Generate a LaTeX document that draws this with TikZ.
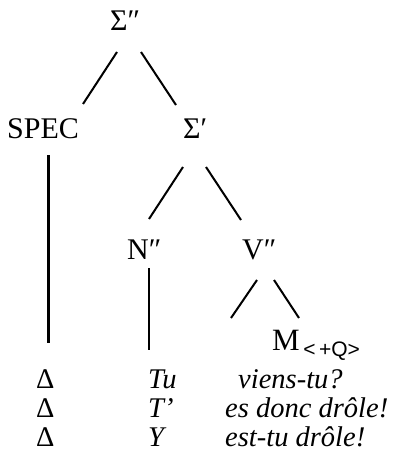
\documentclass[tikz,border=0pt]{standalone}
\usepackage{fontspec}
\setmainfont{Liberation Serif}
\newfontfamily\subfont{Liberation Sans}
\begin{document}
\begin{tikzpicture}[x=1pt,y=-1pt,
  lbl/.style={inner sep=0pt,anchor=base west,font=\fontsize{30}{36}\selectfont},
  row/.style={inner sep=0pt,anchor=base west,font=\fontsize{28.5}{34}\selectfont},
  ital/.style={row,font=\fontsize{28.5}{34}\selectfont\itshape},
  branch/.style={line width=2pt},
  trunk/.style={line width=3pt}]
\useasboundingbox (0,0) rectangle (396,468);
% tree labels
\node[lbl] (s2) at (110,31) {Σ″};
\node[lbl] (spec) at (7,139) {SPEC};
\node[lbl] (s1) at (183,139) {Σ′};
\node[lbl] (n2) at (127,259) {N″};
\node[lbl] (v2) at (242,259) {V″};
\node[lbl] (m) at (272,350) {\fontsize{31}{36}\selectfont M\raisebox{-6pt}{\subfont\fontsize{21}{24}\selectfont\,<\,+Q>}};
% rows
\node[row] (d1) at (36,388) {Δ};
\node[row] (d2) at (36,417) {Δ};
\node[row] (d3) at (36,446) {Δ};
\node[ital] (w1) at (148,388) {Tu};
\node[ital] (w2) at (148,417) {T’};
\node[ital] (w3) at (148,446) {Y};
\node[ital] (r1) at (238,388) {viens-tu?};
\node[ital] (r2) at (225,417) {es donc drôle!};
\node[ital] (r3) at (225,446) {est-tu drôle!};
% connector ends
\coordinate (a1) at (117,52); \coordinate (b1) at (83,104);
\coordinate (a2) at (141,52); \coordinate (b2) at (176,105);
\coordinate (a3) at (183,167); \coordinate (b3) at (149,219);
\coordinate (a4) at (206,167); \coordinate (b4) at (241,220);
\coordinate (a5) at (257,280); \coordinate (b5) at (231,318);
\coordinate (a6) at (274,280); \coordinate (b6) at (299,318);
\coordinate (a7) at (48,155); \coordinate (b7) at (48,343);
\coordinate (a8) at (149,268); \coordinate (b8) at (149,350);
\draw[branch] (a1) -- (b1);
\draw[branch] (a2) -- (b2);
\draw[branch] (a3) -- (b3);
\draw[branch] (a4) -- (b4);
\draw[branch] (a5) -- (b5);
\draw[branch] (a6) -- (b6);
\draw[trunk] (a7) -- (b7);
\draw[branch] (a8) -- (b8);
\end{tikzpicture}
\end{document}
